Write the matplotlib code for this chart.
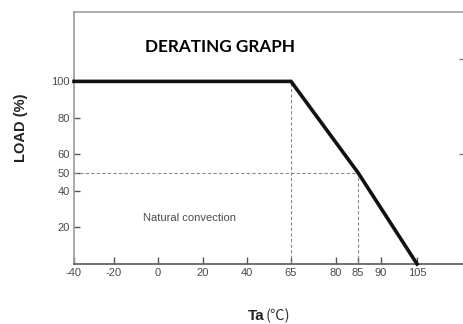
import numpy as np
import matplotlib
matplotlib.use("Agg")
import matplotlib.pyplot as plt

# Derating curve: ambient temperature (°C) vs. allowed load (%)
temp = [-40, 65, 85, 105]
load = [100, 100, 50, 0]

# Axis ticks
x_ticks = [-40, -20, 0, 20, 40, 65, 80, 85, 90, 105]
y_ticks = [100, 80, 60, 50, 40, 20]

# The temperature axis is drawn with uneven spacing between ticks
x_knots = [-40, -20, 0, 20, 40, 65, 80, 85, 90, 105, 145]
x_knot_pos = [0, 40, 84, 129, 173, 217, 262, 284, 307, 343, 439]


def fwd(v):
    return np.interp(v, x_knots, x_knot_pos)


def inv(p):
    return np.interp(p, x_knot_pos, x_knots)


W, H = 463, 324
fig = plt.figure(figsize=(W / 100, H / 100), dpi=100)
ax = fig.add_axes([74 / W, 1 - 264 / H, (466 - 74) / W, (264 - 12) / H])
ax.set_xscale("function", functions=(fwd, inv))
ax.set_xlim(-40, 125.4)
ax.set_ylim(0, 138)

grey = "#8a8a8a"
# dashed guides
ax.plot([65, 65], [0, 100], ls=(0, (3, 2)), color=grey, lw=0.8, zorder=2)
ax.plot([85, 85], [0, 50], ls=(0, (3, 2)), color=grey, lw=0.8, zorder=2)
ax.plot([-40, 85], [50, 50], ls=(0, (3, 2)), color=grey, lw=0.8, zorder=2)

# derating curve
ax.plot(temp, load, color="#111111", lw=2.6, solid_joinstyle="miter", zorder=3,
        clip_on=False)

ax.set_xticks(x_ticks)
ax.set_xticklabels([str(t) for t in x_ticks])
ax.set_yticks(y_ticks)
ax.set_yticklabels([str(t) for t in y_ticks])

for lab in ax.get_xticklabels() + ax.get_yticklabels():
    lab.set_fontfamily("Liberation Sans")
    lab.set_fontsize(8)
    lab.set_color("#4a4a4a")

ax.tick_params(axis="x", direction="in", length=5, width=1, color="#555555", pad=3)
ax.tick_params(axis="y", direction="in", length=4, width=1, color="#555555", pad=3)

for side, col, lw in [("left", "#9a9a9a", 1.2), ("top", "#a0a0a0", 1.2),
                      ("bottom", "#666666", 1.3), ("right", "#a0a0a0", 1.2)]:
    ax.spines[side].set_color(col)
    ax.spines[side].set_linewidth(lw)

sec = ax.secondary_yaxis("right")
sec.set_yticks([112, 60])
sec.set_yticklabels(["", ""])
sec.tick_params(direction="in", length=5, width=1, color="#777777")
sec.spines["right"].set_visible(False)

ax.text(-7, 25, "Natural convection", fontfamily="Liberation Sans", fontsize=8,
        color="#4a4a4a", ha="left", va="center")

fig.text(220 / W, 1 - 52 / H, "DERATING GRAPH", fontfamily="Lato",
         fontweight="bold", fontsize=12.3, ha="center", va="baseline", color="black")

fig.text(21 / W, 1 - 128 / H, "LOAD (%)", fontfamily="Liberation Sans",
         fontweight="bold", fontsize=10.5, rotation=90, ha="center", va="center",
         color="#222222")

fig.text(265 / W, 1 - 320 / H, "Ta", fontfamily="Liberation Sans",
         fontweight="bold", fontsize=11, ha="right", va="baseline", color="#222222")
fig.text(266 / W, 1 - 320 / H, "(\u2103)", fontfamily=["Noto Sans CJK SC", "DejaVu Sans"],
         fontsize=10.5, ha="left", va="baseline", color="#333333")

fig.savefig("out.png", dpi=100)
